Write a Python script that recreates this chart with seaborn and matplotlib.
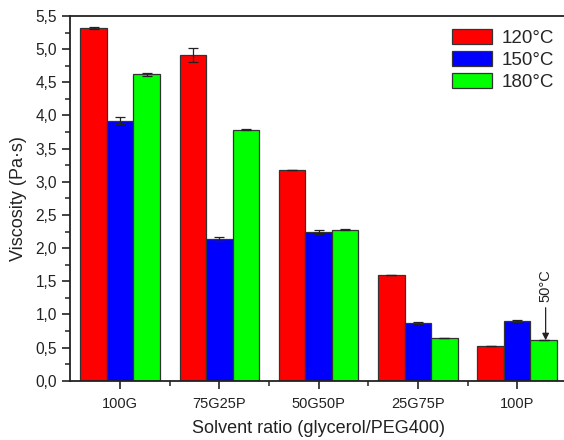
import matplotlib
matplotlib.use("Agg")
import matplotlib.pyplot as plt
from matplotlib.ticker import MultipleLocator, FuncFormatter, FixedLocator
import seaborn as sns
import pandas as pd
import numpy as np

ratios = ["100G", "75G25P", "50G50P", "25G75P", "100P"]
temps = ["120\u00b0C", "150\u00b0C", "180\u00b0C"]
visc_120 = [5.32, 4.91, 3.18, 1.60, 0.53]
visc_150 = [3.92, 2.14, 2.24, 0.87, 0.90]
visc_180 = [4.62, 3.785, 2.28, 0.65, 0.61]
err_120 = [0.01, 0.11, 0.005, 0.0, 0.0]
err_150 = [0.05, 0.03, 0.03, 0.01, 0.01]
err_180 = [0.02, 0.01, 0.01, 0.0, 0.0]
colors = ["#FF0000", "#0000FF", "#00FF00"]

df = pd.DataFrame({
    "ratio": ratios * 3,
    "temp": [temps[0]] * 5 + [temps[1]] * 5 + [temps[2]] * 5,
    "visc": visc_120 + visc_150 + visc_180,
    "err": err_120 + err_150 + err_180,
})

sns.set_theme(style="ticks")
plt.rcParams["font.family"] = ["Liberation Sans", "DejaVu Sans"]

fig = plt.figure(figsize=(5.64, 4.4), dpi=100)
ax = fig.add_axes([0.1248, 0.1348, 0.8802, 0.8288])

sns.barplot(data=df, x="ratio", y="visc", hue="temp", order=ratios,
            hue_order=temps, palette=colors, errorbar=None, width=0.8,
            edgecolor="#333333", linewidth=0.9, saturation=1, ax=ax)

# error bars at each bar's centre
for cont, t in zip(ax.containers, temps):
    sub = df[df["temp"] == t].set_index("ratio").loc[ratios]
    xs = [p.get_x() + p.get_width() / 2 for p in cont.patches]
    ax.errorbar(xs, sub["visc"].values, yerr=sub["err"].values, fmt="none",
                ecolor="#222222", elinewidth=0.9, capsize=3.5, capthick=0.9,
                zorder=5)

ax.set_xlim(-0.5, 4.5)
ax.set_ylim(0, 5.5)
ax.yaxis.set_major_locator(MultipleLocator(0.5))
ax.yaxis.set_minor_locator(MultipleLocator(0.25))
ax.yaxis.set_major_formatter(FuncFormatter(lambda v, p: f"{v:.1f}".replace(".", ",")))
ax.xaxis.set_minor_locator(FixedLocator([0.5, 1.5, 2.5, 3.5]))

for s in ["left", "bottom", "top", "right"]:
    ax.spines[s].set_linewidth(1.3)
    ax.spines[s].set_color("#222222")

ax.tick_params(axis="both", which="major", direction="out", length=6, width=1.2,
               labelsize=10.5, colors="#222222", labelcolor="#222222")
ax.tick_params(axis="y", which="major", labelsize=11.2)
ax.tick_params(axis="both", which="minor", direction="out", length=3.5, width=1.1,
               colors="#222222")
ax.tick_params(axis="x", which="major", pad=6)

ax.set_xlabel("Solvent ratio (glycerol/PEG400)", fontsize=13, labelpad=6,
              color="#222222")
ax.set_ylabel("Viscosity (Pa\u00b7s)", fontsize=13, labelpad=6, color="#222222")

leg = ax.legend(loc="upper right", bbox_to_anchor=(0.975, 0.964), frameon=False,
                fontsize=13.5, handlelength=2.1, handleheight=0.85,
                handletextpad=0.55, labelspacing=0.2, borderpad=0,
                borderaxespad=0)
for h in leg.legend_handles:
    h.set_edgecolor("#333333")
    h.set_linewidth(0.9)

# annotation for the 180 °C bar of 100P
green_bar = ax.containers[2].patches[4]
gx = green_bar.get_x() + green_bar.get_width() / 2 + 0.02
ax.annotate("", xy=(gx, visc_180[4]), xytext=(gx, 1.10),
            arrowprops=dict(arrowstyle="-|>", color="#222222", lw=0.9,
                            mutation_scale=10, shrinkA=0, shrinkB=0))
ax.text(gx, 1.18, "50\u00b0C", rotation=90, ha="center", va="bottom",
        fontsize=10.5, color="#222222")

fig.savefig("out.png", dpi=100)
